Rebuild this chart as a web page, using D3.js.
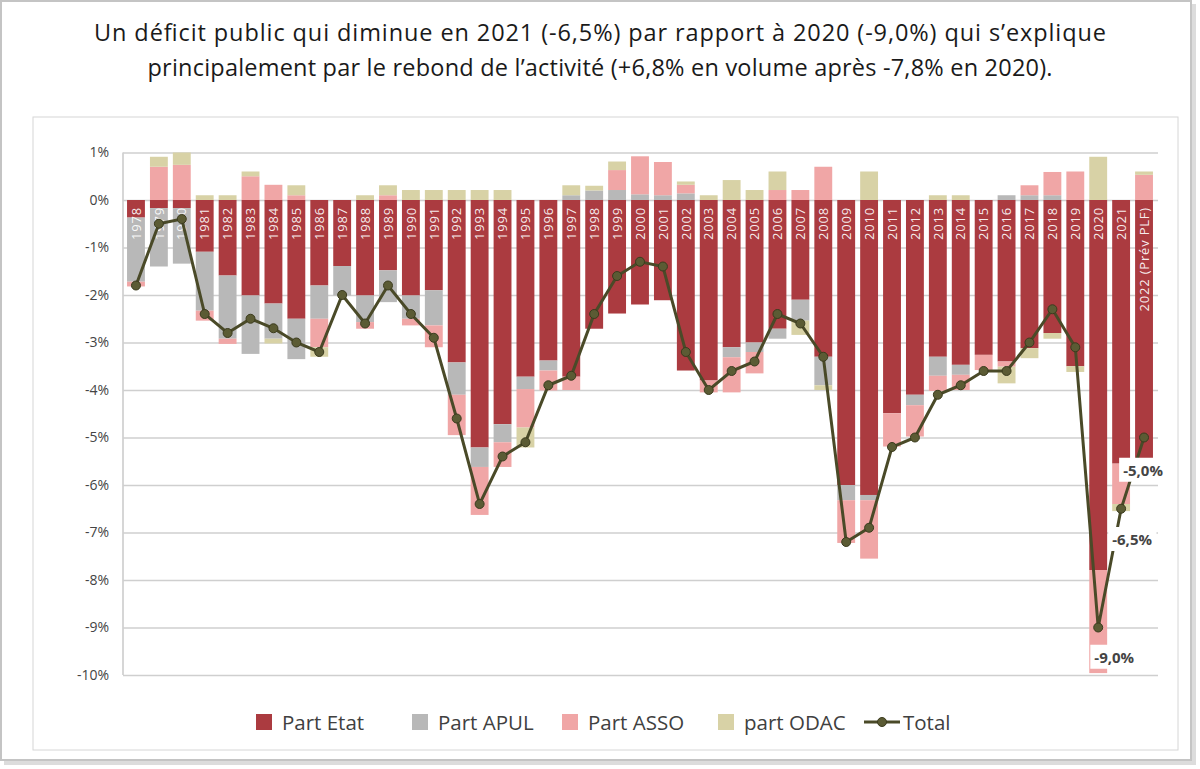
<!DOCTYPE html>
<html><head><meta charset="utf-8">
<script src="https://cdn.jsdelivr.net/npm/d3@7"></script>
<style>
html,body{margin:0;padding:0;background:#fff;}
svg{display:block;font-family:"Open Sans",sans-serif;}
</style></head>
<body><svg id="c" width="1200" height="769"></svg>
<script>
const years = ["1978","1979","1980","1981","1982","1983","1984","1985","1986","1987","1988","1989","1990","1991","1992","1993","1994","1995","1996","1997","1998","1999","2000","2001","2002","2003","2004","2005","2006","2007","2008","2009","2010","2011","2012","2013","2014","2015","2016","2017","2018","2019","2020","2021","2022 (Prév PLF)"];
const partEtat = [-0.37,-0.17,-0.17,-1.09,-1.59,-2.01,-2.18,-2.5,-1.8,-1.39,-2.01,-1.48,-2.01,-1.9,-3.42,-5.21,-4.72,-3.72,-3.38,-3.72,-2.71,-2.39,-2.2,-2.11,-3.59,-3.8,-3.1,-3.0,-2.71,-2.1,-3.3,-6.0,-6.21,-4.49,-4.1,-3.3,-3.47,-3.26,-3.4,-3.12,-2.8,-3.5,-7.79,-5.55,-5.6];
const partAPUL = [-1.35,-1.23,-1.17,-1.24,-1.33,-1.23,-0.74,-0.85,-0.7,-0.62,-0.56,-0.67,-0.49,-0.74,-0.68,-0.41,-0.38,-0.26,-0.21,0.1,0.2,0.21,0.12,0.1,0.14,0,-0.21,-0.2,-0.21,-0.44,-0.6,-0.32,-0.11,0,-0.22,-0.4,-0.21,0,0.1,0.1,0.1,0,0,0,0];
const partASSO = [-0.1,0.7,0.74,-0.21,-0.11,0.5,0.32,0.1,-0.6,0,-0.14,0.1,-0.14,-0.46,-0.85,-1.01,-0.52,-0.81,-0.42,-0.28,0,0.42,0.8,0.7,0.18,-0.25,-0.74,-0.45,0.21,0.21,0.7,-0.9,-1.23,-0.7,-0.66,-0.32,-0.32,-0.32,-0.11,0.21,0.49,0.6,-2.17,-0.85,0.53];
const partODAC = [0,0.21,0.26,0.1,0.1,0.1,-0.1,0.21,-0.2,0,0.1,0.21,0.21,0.21,0.21,0.21,0.21,-0.42,0,0.21,0.1,0.18,0,0,0.07,0.1,0.42,0.21,0.39,-0.3,-0.1,0,0.6,0,0,0.1,0.1,0,-0.35,-0.21,-0.12,-0.12,0.91,-0.15,0.07];
const total = [-1.8,-0.5,-0.4,-2.4,-2.8,-2.5,-2.7,-3.0,-3.2,-2.0,-2.6,-1.8,-2.4,-2.9,-4.6,-6.4,-5.4,-5.1,-3.9,-3.7,-2.4,-1.6,-1.3,-1.4,-3.2,-4.0,-3.6,-3.4,-2.4,-2.6,-3.3,-7.2,-6.9,-5.2,-5.0,-4.1,-3.9,-3.6,-3.6,-3.0,-2.3,-3.1,-9.0,-6.5,-5.0];
const yTicks = [1,0,-1,-2,-3,-4,-5,-6,-7,-8,-9,-10];
const seriesNames = ["Part Etat","Part APUL","Part ASSO","part ODAC"];
const seriesColors = ["#ab3b40","#b8b8b8","#f0a6a6","#d8d2a6"];
const totalName = "Total";
const titleLines = ["Un déficit public qui diminue en 2021 (-6,5%) par rapport à 2020 (-9,0%) qui s’explique",
                    "principalement par le rebond de l’activité (+6,8% en volume après -7,8% en 2020)."];
const annotated = {"2020":"-9,0%","2021":"-6,5%","2022 (Prév PLF)":"-5,0%"};

const svg = d3.select("#c");
// frame
svg.append("rect").attr("x",4).attr("y",4).attr("width",1192).attr("height",761).attr("fill","#9a9a9a").attr("opacity",0.35);
svg.append("rect").attr("x",1).attr("y",1).attr("width",1190).attr("height",759).attr("fill","#fff").attr("stroke","#c4c4c4").attr("stroke-width",2);
svg.append("rect").attr("x",33).attr("y",117).attr("width",1145).attr("height",633).attr("fill","#fff").attr("stroke","#d6d6d6").attr("stroke-width",1);

// title
const titleWidths = [1012, 905];
svg.append("g").selectAll("text").data(titleLines).join("text")
  .attr("x",600).attr("y",(d,i)=>41+i*35).attr("text-anchor","middle")
  .attr("font-size",23.5).attr("fill","#1a1a1a")
  .attr("textLength",(d,i)=>titleWidths[i]).attr("lengthAdjust","spacing").text(d=>d);

const rows = years.map((y,i)=>({year:y, "Part Etat":partEtat[i], "Part APUL":partAPUL[i], "Part ASSO":partASSO[i], "part ODAC":partODAC[i], total:total[i]}));

const x = d3.scaleBand().domain(years).range([122,1158]).padding(0.22);
const y = d3.scaleLinear().domain([-10,1]).range([675,152.5]);

// grid + y axis
const yAxis = svg.append("g").attr("transform","translate(123,0)")
  .call(d3.axisLeft(y).tickValues(yTicks).tickSize(-1035).tickFormat(d=>d+"%"));
yAxis.select(".domain").attr("stroke","#c8c8c8").attr("stroke-width",1.5).attr("d","M0,152.5V675");
yAxis.selectAll(".tick line").attr("stroke","#cfcfcf").attr("stroke-width",1.5);
yAxis.selectAll(".tick text").attr("x",-14).attr("font-size",14).attr("fill","#444").attr("font-family","Open Sans, sans-serif");

// stacked bars
const stack = d3.stack().keys(seriesNames).offset(d3.stackOffsetDiverging)(rows);
const gBars = svg.append("g");
stack.forEach((s,k)=>{
  gBars.append("g").attr("fill",seriesColors[k]).selectAll("rect").data(s).join("rect")
    .attr("x",d=>x(d.data.year)).attr("width",x.bandwidth())
    .attr("y",d=>y(Math.max(d[0],d[1]))).attr("height",d=>Math.abs(y(d[0])-y(d[1])));
});

// year labels
svg.append("g").selectAll("text").data(years).join("text")
  .attr("transform",d=>`translate(${x(d)+x.bandwidth()/2+4.7},${y(0)+7}) rotate(-90)`)
  .attr("text-anchor","end").attr("font-size",13).attr("fill","#fff").attr("fill-opacity",0.92)
  .attr("letter-spacing",0.8).text(d=>d);

// total line
const line = d3.line().x(d=>x(d.year)+x.bandwidth()/2).y(d=>y(d.total));
svg.append("path").datum(rows).attr("d",line).attr("fill","none").attr("stroke","#4a4a28").attr("stroke-width",3);
svg.append("g").selectAll("circle").data(rows).join("circle")
  .attr("cx",d=>x(d.year)+x.bandwidth()/2).attr("cy",d=>y(d.total)).attr("r",4.5)
  .attr("fill","#5b5b34").attr("stroke","#3b3b1e").attr("stroke-width",1);

// annotations
const ann = rows.filter(d=>annotated[d.year]);
const offs = {"2020":[16,30],"2021":[11,31],"2022 (Prév PLF)":[-1,33]};
const ga = svg.append("g");
ann.forEach(d=>{
  const cx = x(d.year)+x.bandwidth()/2 + offs[d.year][0];
  const cy = y(d.total) + offs[d.year][1];
  const g = ga.append("g");
  const t = g.append("text").attr("x",cx).attr("y",cy).attr("dy","0.35em").attr("text-anchor","middle")
    .attr("font-size",15).attr("font-weight","bold").attr("fill","#444").text(annotated[d.year]);
  const bb = t.node().getBBox();
  g.insert("rect","text").attr("x",bb.x-4).attr("y",bb.y-2).attr("width",bb.width+8).attr("height",bb.height+4).attr("fill","#fff");
});

// legend
const legX = [256,412,562,718];
const lg = svg.append("g");
seriesNames.forEach((n,i)=>{
  lg.append("rect").attr("x",legX[i]).attr("y",714).attr("width",16).attr("height",16).attr("fill",seriesColors[i]);
  lg.append("text").attr("x",legX[i]+26).attr("y",730).attr("font-size",20.5).attr("fill","#404040").text(n);
});
lg.append("line").attr("x1",864).attr("x2",900).attr("y1",722).attr("y2",722).attr("stroke","#4a4a28").attr("stroke-width",3);
lg.append("circle").attr("cx",882).attr("cy",722).attr("r",4.5).attr("fill","#5b5b34").attr("stroke","#3b3b1e");
lg.append("text").attr("x",903).attr("y",730).attr("font-size",20.5).attr("fill","#404040").text(totalName);
</script></body></html>
